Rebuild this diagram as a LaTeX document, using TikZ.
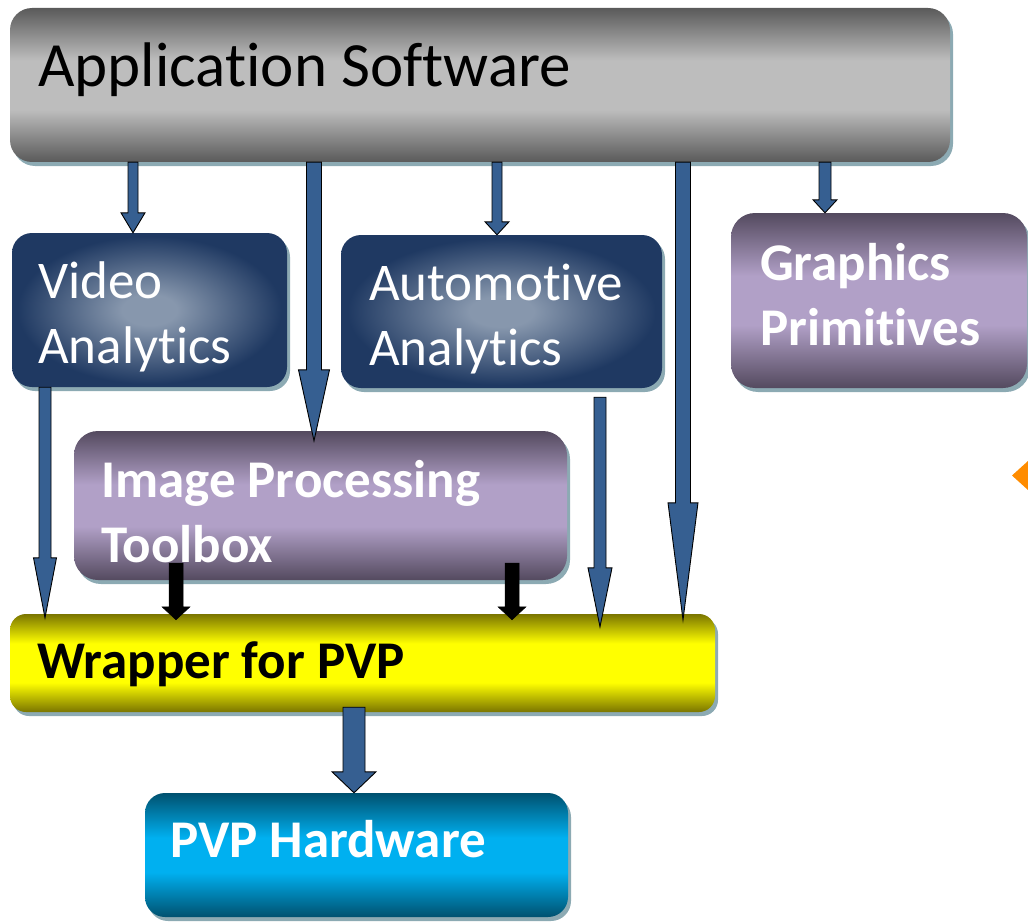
\documentclass[tikz,border=0pt]{standalone}
\usepackage{fontspec}
\setmainfont{Carlito}[Ligatures=NoCommon]
\usetikzlibrary{calc,shadows}
\definecolor{shadowc}{HTML}{8CAAB3}
\definecolor{grayd}{HTML}{5A5A5A}
\definecolor{grayl}{HTML}{BDBDBD}
\definecolor{navyc}{HTML}{1F3962}
\definecolor{glowc}{HTML}{8797AD}
\definecolor{purpd}{HTML}{544A5F}
\definecolor{purpl}{HTML}{B1A0C7}
\definecolor{olivec}{HTML}{7A7500}
\definecolor{yellc}{HTML}{FFFF00}
\definecolor{tealc}{HTML}{00516F}
\definecolor{cyanc}{HTML}{00B0F0}
\definecolor{arrc}{HTML}{365F91}
\definecolor{orangec}{HTML}{FF8C00}
\pgfdeclareverticalshading{appsh}{100bp}{color(0bp)=(grayd); color(25bp)=(grayd); color(42bp)=(grayl); color(58bp)=(grayl); color(75bp)=(grayd); color(100bp)=(grayd)}
\pgfdeclareverticalshading{purpsh}{100bp}{color(0bp)=(purpd); color(25bp)=(purpd); color(43bp)=(purpl); color(57bp)=(purpl); color(75bp)=(purpd); color(100bp)=(purpd)}
\pgfdeclareverticalshading{yellsh}{100bp}{color(0bp)=(olivec); color(25bp)=(olivec); color(40bp)=(yellc); color(60bp)=(yellc); color(75bp)=(olivec); color(100bp)=(olivec)}
\pgfdeclareverticalshading{cyansh}{100bp}{color(0bp)=(tealc); color(25bp)=(tealc); color(43bp)=(cyanc); color(57bp)=(cyanc); color(75bp)=(tealc); color(100bp)=(tealc)}
\pgfdeclareradialshading{glowsh}{\pgfpoint{0bp}{0bp}}{color(0bp)=(glowc); color(5bp)=(glowc); color(24bp)=(navyc); color(50bp)=(navyc)}
\newcommand\blockarr[6]{%
  \path #2 coordinate (bs) #3 coordinate (be);
  \draw[#1] ($(bs)+(-#4,0)$) -- ($(be)+(-#4,-#6)$) -- ($(be)+(-#5,-#6)$) -- (be)
    -- ($(be)+(#5,-#6)$) -- ($(be)+(#4,-#6)$) -- ($(bs)+(#4,0)$) -- cycle;}
\begin{document}
\begin{tikzpicture}[x=1pt,y=-1pt,
  box/.style={rectangle, rounded corners=22pt, inner sep=0pt,
    drop shadow={shadow xshift=3pt, shadow yshift=-4pt, fill=shadowc, opacity=1}},
  bluearr/.style={fill=arrc, draw=black, line width=0.9pt, line join=miter},
  blackarr/.style={fill=black, draw=black, line width=0.5pt},
  lbl/.style={anchor=base west, inner sep=0pt, font=\fontsize{53}{64}\selectfont, text=white},
  blbl/.style={lbl, font=\fontsize{53}{64}\selectfont\bfseries}]
\useasboundingbox (0,0) rectangle (1028,923);
% boxes
\node[box, shading=appsh, minimum width=940pt, minimum height=154pt] (app) at (480,85) {};
\node[box, shading=glowsh, rounded corners=20pt, minimum width=275pt, minimum height=154pt] (video) at (149.5,310) {};
\node[box, shading=glowsh, rounded corners=20pt, minimum width=321pt, minimum height=153pt] (auto) at (501.5,311.5) {};
\node[box, shading=purpsh, rounded corners=24pt, minimum width=296pt, minimum height=175pt] (graph) at (879,300.5) {};
\node[box, shading=purpsh, rounded corners=24pt, minimum width=493pt, minimum height=149pt] (image) at (320.5,505.5) {};
\node[box, shading=yellsh, rounded corners=16pt, minimum width=705pt, minimum height=98pt] (wrap) at (362.5,663) {};
\node[box, shading=cyansh, rounded corners=20pt, minimum width=423pt, minimum height=124pt] (pvp) at (356.5,855) {};
% texts
\node[lbl, text=black, font=\fontsize{63}{75}\selectfont] (tapp) at (38,87) {Application Software};
\node[lbl] (tvid1) at (38,298) {Video};
\node[lbl] (tvid2) at (38,363) {Analytics};
\node[lbl] (tauto1) at (369,300) {Automotive};
\node[lbl] (tauto2) at (369,365) {Analytics};
\node[blbl] (tgr1) at (760,280) {Graphics};
\node[blbl] (tgr2) at (760,345) {Primitives};
\node[blbl] (timg1) at (101,497) {Image Processing};
\node[blbl] (timg2) at (101,562) {Toolbox};
\node[blbl, text=black] (twrap) at (37,678) {Wrapper for PVP};
\node[blbl] (tpvp) at (170,857) {PVP Hardware};
% arrows
\blockarr{bluearr}{(133,0 |- app.south)}{(133,0 |- video.north)}{5}{12}{20}
\blockarr{bluearr}{(314,0 |- app.south)}{($(314,0 |- image.north)+(0,10)$)}{7.5}{15.5}{71}
\blockarr{bluearr}{(497,0 |- app.south)}{(497,0 |- auto.north)}{5}{12}{13}
\blockarr{bluearr}{(683,0 |- app.south)}{($(683,0 |- wrap.north)+(0,6)$)}{7.5}{15}{117}
\blockarr{bluearr}{(825,0 |- app.south)}{(825,0 |- graph.north)}{6}{12}{13}
\blockarr{bluearr}{(45,0 |- video.south)}{($(45,0 |- wrap.north)+(0,4)$)}{6}{11.5}{60}
\blockarr{bluearr}{($(600,0 |- auto.south)+(0,9)$)}{($(600,0 |- wrap.north)+(0,13)$)}{6}{12}{59}
\blockarr{blackarr}{($(176,0 |- image.south)+(0,-17)$)}{($(176,0 |- wrap.north)+(0,6)$)}{7}{14}{13}
\blockarr{blackarr}{($(512,0 |- image.south)+(0,-17)$)}{($(512,0 |- wrap.north)+(0,6)$)}{7}{14}{13}
\blockarr{bluearr}{($(354,0 |- wrap.south)+(0,-5)$)}{(354,0 |- pvp.north)}{11}{22}{21}
% orange mark at right edge
\fill[orangec] (1028,461) -- (1012,475.5) -- (1028,490) -- cycle;
\end{tikzpicture}
\end{document}
